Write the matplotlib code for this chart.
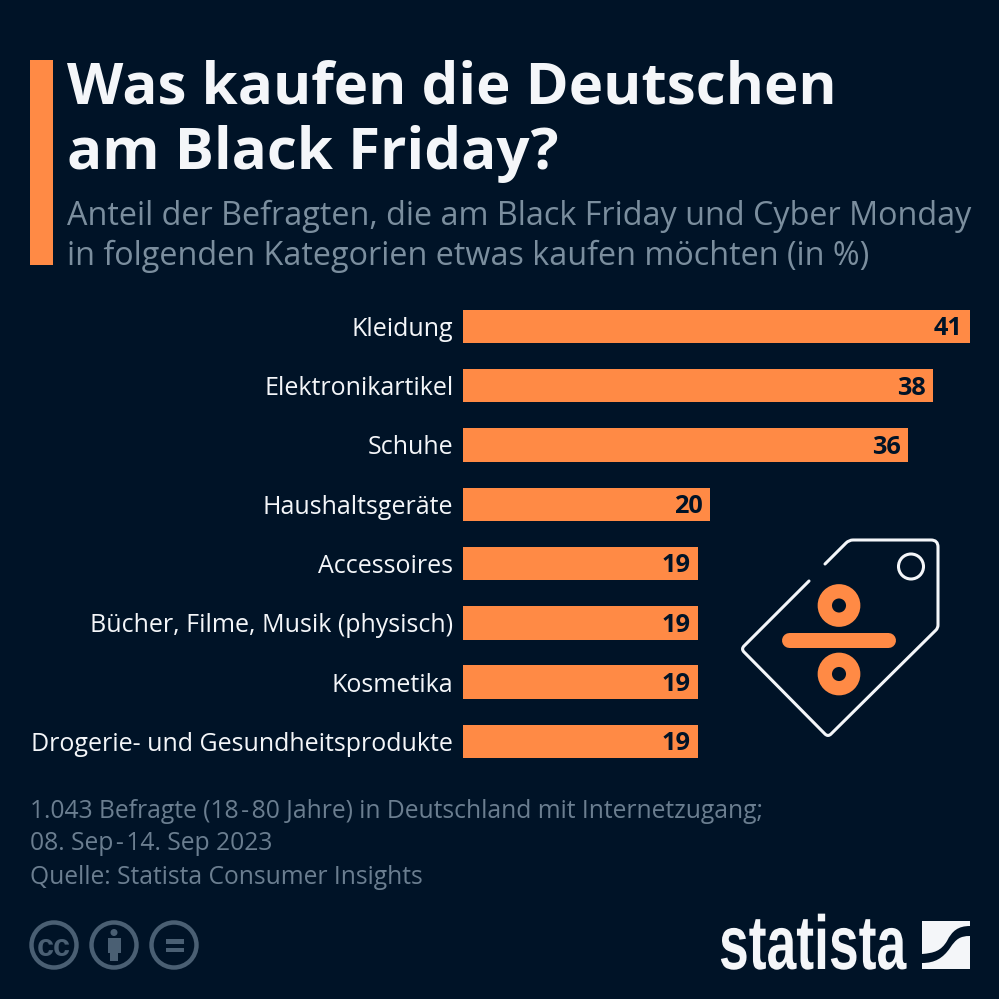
import matplotlib
matplotlib.use("Agg")
import matplotlib.pyplot as plt
from matplotlib.patches import Circle, Rectangle, PathPatch
from matplotlib.path import Path
from matplotlib.patheffects import AbstractPathEffect
from matplotlib.transforms import Affine2D

categories = ["Kleidung", "Elektronikartikel", "Schuhe", "Haushaltsgeräte", "Accessoires",
              "Bücher, Filme, Musik (physisch)", "Kosmetika", "Drogerie- und Gesundheitsprodukte"]
values = [41, 38, 36, 20, 19, 19, 19, 19]
title_lines = ["Was kaufen die Deutschen", "am Black Friday?"]
subtitle_lines = ["Anteil der Befragten, die am Black Friday und Cyber Monday",
                  "in folgenden Kategorien etwas kaufen möchten (in %)"]
note_lines = ["1.043 Befragte (18\u200a-\u200a80 Jahre) in Deutschland mit Internetzugang;",
              "08. Sep\u200a-\u200a14. Sep 2023", "Quelle: Statista Consumer Insights"]

BG = "#001327"; OR = "#ff8a45"; WH = "#f4f6f9"; GR = "#6b7e90"; SUB = "#7b8e9e"; ICON = "#4a5f73"
plt.rcParams["font.family"] = ["Open Sans", "DejaVu Sans"]

S = 999
fig = plt.figure(figsize=(9.99, 9.99), dpi=100, facecolor=BG)
px = fig.add_axes([0, 0, 1, 1]); px.set_xlim(0, S); px.set_ylim(S, 0); px.axis("off")


class Squeeze(AbstractPathEffect):
    """Narrow a text horizontally about a display x position (for the condensed logo lettering)."""
    def __init__(self, x0, sx):
        super().__init__()
        self.x0, self.sx = x0, sx

    def draw_path(self, renderer, gc, tpath, affine, rgbFace=None):
        t = affine + Affine2D().translate(-self.x0, 0).scale(self.sx, 1).translate(self.x0, 0)
        renderer.draw_path(gc, tpath, t, rgbFace)


# header
px.add_patch(Rectangle((30, 60), 23, 205, fc=OR, ec="none"))
for y, t in zip([104, 169], title_lines):
    px.text(67, y, t, color=WH, fontsize=41.95, fontweight="bold", va="baseline", ha="left")
for y, t in zip([216, 256], subtitle_lines):
    px.text(67, y, t, color=SUB, fontsize=23.28, va="center", ha="left")

# bars
top, step = 296.7, 59.3
ax = fig.add_axes([463 / S, 1 - (top + step * 8) / S, 507 / S, step * 8 / S])
ax.set_facecolor("none")
y = range(len(values))
ax.barh(y, values, height=33.5 / step, color=OR)
ax.set_xlim(0, 41); ax.set_ylim(7.5, -0.5)
ax.set_xticks([])
ax.set_yticks(list(y), categories, color=WH, fontsize=18.0)
ax.tick_params(axis="y", length=0, pad=7)
for s in ax.spines.values():
    s.set_visible(False)
for i, v in enumerate(values):
    ax.text(v - 0.6, i - 0.01, str(v), ha="right", va="center_baseline", color=BG, fontsize=18.2, fontweight="bold")

# notes
for yy, t in zip([812, 843, 878], note_lines):
    px.text(30, yy, t, color=GR, fontsize=17.7, va="center", ha="left")


# price tag with rounded corners
def rounded(corners, first, last):
    verts, codes = [first], [Path.MOVETO]
    for (a, c, b) in corners:
        verts += [a, c, b]; codes += [Path.LINETO, Path.CURVE3, Path.CURVE3]
    verts.append(last); codes.append(Path.LINETO)
    return Path(verts, codes)


tag = rounded([((846, 543), (849, 540), (853, 540)),
               ((931, 540), (938, 540), (938, 547)),
               ((938, 625), (938, 628), (936, 630)),
               ((831, 734), (828, 737), (825, 734)),
               ((744, 652), (741, 649), (744, 646))],
              (825, 564), (809, 581))
px.add_patch(PathPatch(tag, fc="none", ec=WH, lw=2.2, capstyle="round", joinstyle="round"))
px.add_patch(Circle((911, 566.5), 12.5, fc="none", ec=WH, lw=2.2))
for cy in (605.5, 674):
    px.add_patch(Circle((839, cy), 14.2, fc="none", ec=OR, lw=10.3))
px.plot([788.5, 887.5], [639.5, 639.5], color=OR, lw=10.8, solid_capstyle="round")

# licence icons
for cx in (54, 114, 174):
    px.add_patch(Circle((cx, 945), 22.5, fc="none", ec=ICON, lw=3.2))
px.text(54, 945, "cc", color=ICON, fontsize=22, fontweight="bold", ha="center", va="center_baseline",
        family="Liberation Sans")
px.add_patch(Circle((114, 932.5), 3.5, fc=ICON, ec="none"))
px.add_patch(Rectangle((107.5, 937.5), 13, 15, fc=ICON, ec="none"))
px.add_patch(Rectangle((110, 952), 8, 9, fc=ICON, ec="none"))
px.add_patch(Rectangle((166, 939), 18, 4.5, fc=ICON, ec="none"))
px.add_patch(Rectangle((166, 947.5), 18, 4.5, fc=ICON, ec="none"))

# logo
logo = px.text(719, 969, "statista", color=WH, fontsize=55, fontweight="bold", family="Liberation Sans",
               ha="left", va="baseline")
logo.set_path_effects([Squeeze(719, 0.70)])
px.add_patch(Rectangle((922, 921), 48, 48, fc=WH, ec="none"))
swoosh = Path([(922, 954), (934, 953), (941, 951), (947, 941), (952, 931), (958, 926), (970, 926),
               (970, 936), (960, 936), (956, 939), (950, 948), (943, 958), (935, 963), (922, 963),
               (922, 954)],
              [Path.MOVETO, Path.CURVE4, Path.CURVE4, Path.CURVE4, Path.CURVE4, Path.CURVE4, Path.CURVE4,
               Path.LINETO, Path.CURVE4, Path.CURVE4, Path.CURVE4, Path.CURVE4, Path.CURVE4, Path.CURVE4,
               Path.CLOSEPOLY])
px.add_patch(PathPatch(swoosh, fc=BG, ec="none"))

fig.savefig("out.png", dpi=100, facecolor=BG)
